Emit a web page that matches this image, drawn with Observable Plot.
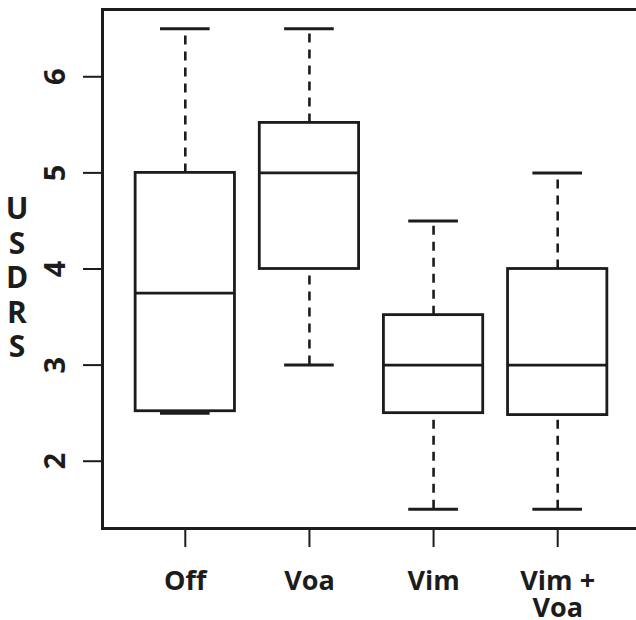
<!DOCTYPE html>
<html>
<head>
<meta charset="utf-8">
<script src="https://cdn.jsdelivr.net/npm/d3@7"></script>
<script src="https://cdn.jsdelivr.net/npm/@observablehq/plot@0.6"></script>
<style>
  html, body { margin: 0; padding: 0; background: #fff; }
  #chart { position: relative; width: 636px; height: 620px; overflow: hidden; }
  .ylab { position: absolute; left: 0; width: 34px; text-align: center;
          font-family: "Open Sans", sans-serif; font-weight: bold; font-size: 30px;
          line-height: 30px; height: 30px; color: #1c1c1c; }
</style>
</head>
<body>
<div id="chart"></div>
<script>
const groups = ["Off", "Voa", "Vim", "Vim +\nVoa"];
const lowerWhisker = [2.5, 3.0, 1.5, 1.5];
const q1 = [2.52, 4.0, 2.5, 2.48];
const medians = [3.75, 5.0, 3.0, 3.0];
const q3 = [5.0, 5.52, 3.52, 4.0];
const upperWhisker = [6.5, 6.5, 4.5, 5.0];
const yTicks = [2, 3, 4, 5, 6];
const yTitle = "USDRS";

const rows = groups.map((g, k) => ({
  g, pos: k + 1, lo: lowerWhisker[k], q1: q1[k], med: medians[k], q3: q3[k], hi: upperWhisker[k]
}));

const ink = "#1c1c1c";
const boxHalf = 0.4, capHalf = 0.2;

const chart = Plot.plot({
  width: 636,
  height: 620,
  marginLeft: 102,
  marginRight: -4,
  marginTop: 9,
  marginBottom: 92,
  style: { fontFamily: "Open Sans, sans-serif", fontWeight: "bold", fontSize: "27px", color: ink, background: "#fff", overflow: "hidden" },
  x: { domain: [0.333, 4.667], axis: null },
  y: { domain: [1.3, 6.7], axis: null },
  marks: [
    Plot.frame({ stroke: ink, strokeWidth: 3 }),
    Plot.axisX({ ticks: rows.map(d => d.pos), tickFormat: (v) => groups[v - 1], label: null, tickSize: 19, tickPadding: 23, strokeWidth: 2, stroke: ink, fill: ink, lineHeight: 1.0, fontSize: 27 }),
    Plot.axisY({ ticks: yTicks, tickFormat: d3.format("d"), label: null, tickSize: 19, tickPadding: 19, tickRotate: -90, strokeWidth: 2, stroke: ink, fill: ink, fontSize: 29 }),
    // whiskers (dashed)
    Plot.ruleX(rows, { x: "pos", y1: "q3", y2: "hi", stroke: ink, strokeWidth: 2.6, strokeDasharray: "9,7" }),
    Plot.ruleX(rows, { x: "pos", y1: "lo", y2: "q1", stroke: ink, strokeWidth: 2.6, strokeDasharray: "9,7" }),
    // caps
    Plot.ruleY(rows, { y: "hi", x1: d => d.pos - capHalf, x2: d => d.pos + capHalf, stroke: ink, strokeWidth: 3 }),
    Plot.ruleY(rows, { y: "lo", x1: d => d.pos - capHalf, x2: d => d.pos + capHalf, stroke: ink, strokeWidth: 3 }),
    // boxes
    Plot.rect(rows, { x1: d => d.pos - boxHalf, x2: d => d.pos + boxHalf, y1: "q1", y2: "q3", fill: "#fff", stroke: ink, strokeWidth: 2.8 }),
    // medians
    Plot.ruleY(rows, { y: "med", x1: d => d.pos - boxHalf, x2: d => d.pos + boxHalf, stroke: ink, strokeWidth: 2.8 })
  ]
});
const host = document.getElementById("chart");
host.appendChild(chart);
// stacked vertical axis title, one letter per line
Array.from(yTitle).forEach((ch, k) => {
  const el = document.createElement("div");
  el.className = "ylab";
  el.style.top = (193 + k * 34.5) + "px";
  el.textContent = ch;
  host.appendChild(el);
});
</script>
</body>
</html>
